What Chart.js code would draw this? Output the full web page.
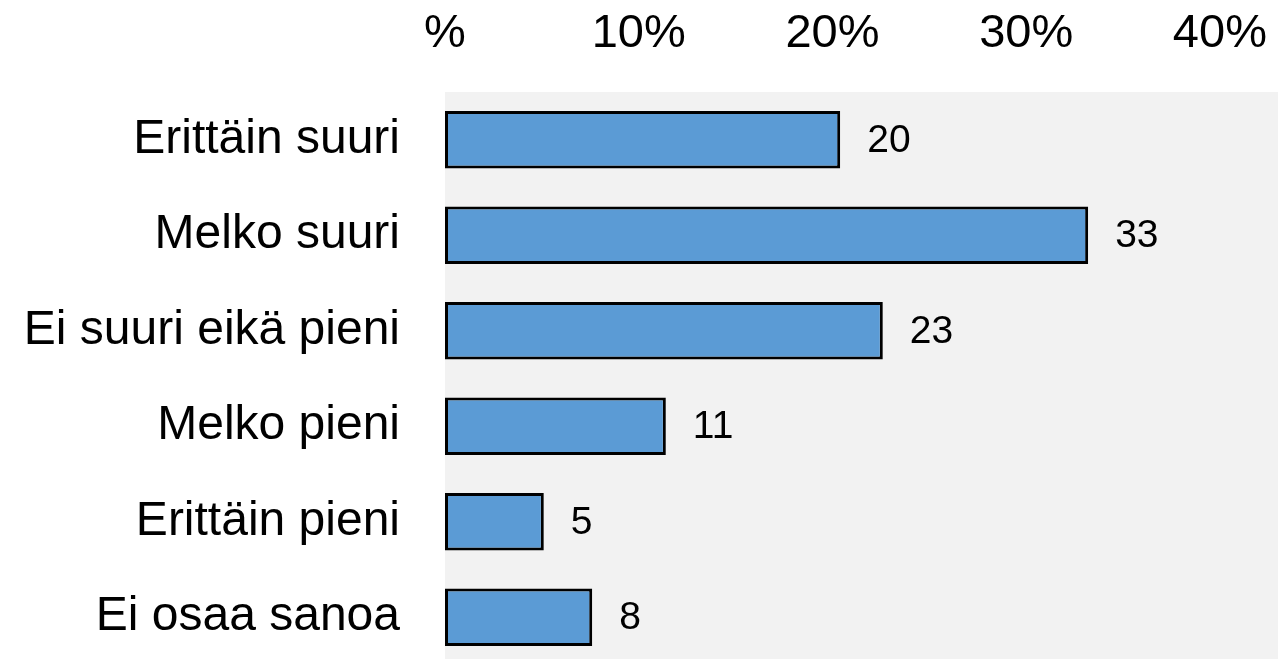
<!DOCTYPE html>
<html>
<head>
<meta charset="utf-8">
<script src="https://cdn.jsdelivr.net/npm/chart.js@4/dist/chart.umd.min.js"></script>
<style>
  html, body { margin: 0; padding: 0; background: #fff; overflow: hidden; }
  #wrap { width: 1278px; height: 665px; }
</style>
</head>
<body>
<div id="wrap"><canvas id="chart" width="1278" height="665"></canvas></div>
<script>
var categories = ['Erittäin suuri', 'Melko suuri', 'Ei suuri eikä pieni', 'Melko pieni', 'Erittäin pieni', 'Ei osaa sanoa'],
    shares = [20.4, 33.2, 22.6, 11.4, 5.1, 7.6],
    shareLabels = ['20', '33', '23', '11', '5', '8'],
    xTicks = [0, 10, 20, 30, 40];

var font = "'Liberation Sans', Arial, sans-serif";

// grey plot background
var plotBg = {
    id: 'plotBg',
    beforeDraw: function(chart) {
        var a = chart.chartArea, ctx = chart.ctx;
        ctx.save();
        ctx.fillStyle = '#f2f2f2';
        ctx.fillRect(a.left, a.top, a.right - a.left, a.bottom - a.top);
        ctx.restore();
    }
};

// value labels to the right of the bars
var valueLabels = {
    id: 'valueLabels',
    afterDatasetsDraw: function(chart) {
        var ctx = chart.ctx;
        ctx.save();
        ctx.font = '39px ' + font;
        ctx.fillStyle = '#000';
        ctx.textAlign = 'left';
        ctx.textBaseline = 'middle';
        chart.getDatasetMeta(0).data.forEach(function(bar, i) {
            ctx.fillText(shareLabels[i], bar.x + 27, bar.y + 1);
        });
        ctx.restore();
    }
};

var chart = new Chart(document.getElementById('chart'), {
    type: 'bar',
    data: {
        labels: categories,
        datasets: [{
            data: shares,
            backgroundColor: '#5b9bd5',
            borderColor: '#000',
            borderWidth: 3,
            borderSkipped: false,
            barPercentage: 0.6,
            categoryPercentage: 1
        }]
    },
    options: {
        indexAxis: 'y',
        responsive: false,
        animation: false,
        layout: { padding: 0 },
        plugins: {
            legend: { display: false },
            tooltip: { enabled: false }
        },
        scales: {
            x: {
                position: 'top',
                min: 0,
                max: 43,
                grid: { display: false, drawTicks: false },
                border: { display: false },
                afterBuildTicks: function(scale) {
                    scale.ticks = xTicks.map(function(v) { return { value: v }; });
                },
                afterFit: function(scale) {
                    scale.height = 92;
                    scale.paddingLeft = 0;
                    scale.paddingRight = 0;
                },
                ticks: {
                    padding: 30,
                    color: '#000',
                    maxRotation: 0,
                    font: { family: font, size: 47 },
                    callback: function(v) { return v === 0 ? '%' : v + '%'; }
                }
            },
            y: {
                grid: { display: false, drawTicks: false },
                border: { display: false },
                afterFit: function(scale) {
                    scale.width = 445;
                    scale.paddingTop = 0;
                    scale.paddingBottom = 0;
                },
                ticks: {
                    padding: 45,
                    color: '#000',
                    font: { family: font, size: 48 }
                }
            }
        }
    },
    plugins: [plotBg, valueLabels]
});
</script>
</body>
</html>
